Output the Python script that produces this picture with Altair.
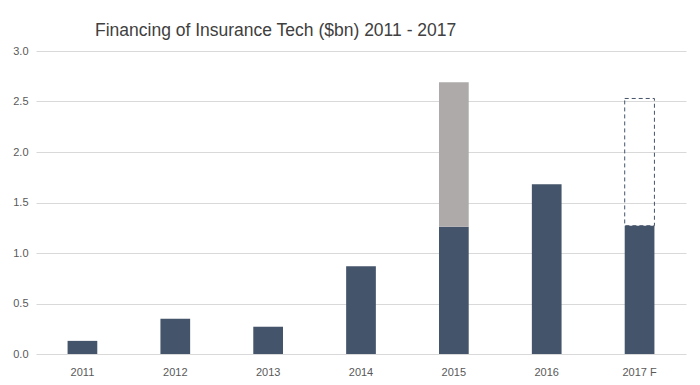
import altair as alt
import pandas as pd

years = ["2011", "2012", "2013", "2014", "2015", "2016", "2017 F"]
base_values = [0.13, 0.35, 0.27, 0.87, 1.26, 1.68, 1.27]

extra_years = ["2015"]
extra_low = [1.26]
extra_high = [2.69]

forecast_years = ["2017 F"]
forecast_low = [1.27]
forecast_high = [2.53]

base_df = pd.DataFrame({"year": years, "value": base_values})
extra_df = pd.DataFrame({"year": extra_years, "low": extra_low, "high": extra_high})
fc_df = pd.DataFrame({"year": forecast_years, "low": forecast_low, "high": forecast_high})

xscale = alt.Scale(domain=years, paddingInner=0.68, paddingOuter=0.34)
yscale = alt.Scale(domain=[0, 3])

x = alt.X("year:N", scale=xscale, sort=years,
          axis=alt.Axis(title=None, labelAngle=0, ticks=False, domain=False,
                        labelColor="#595959", labelFontSize=11, labelPadding=12,
                        labelFont="Liberation Sans", grid=False))

base = alt.Chart(base_df).mark_bar(color="#44546A").encode(
    x=x,
    y=alt.Y("value:Q", scale=yscale,
            axis=alt.Axis(title=None, values=[0, 0.5, 1, 1.5, 2, 2.5, 3], format=".1f",
                          ticks=False, domain=False, gridColor="#D9D9D9", gridWidth=1,
                          labelColor="#595959", labelFontSize=11, labelPadding=8,
                          labelFont="Liberation Sans")),
)

extra = alt.Chart(extra_df).mark_bar(color="#AEAAAA").encode(
    x=alt.X("year:N", scale=xscale, sort=years),
    y=alt.Y("low:Q", scale=yscale),
    y2="high:Q",
)

fc = alt.Chart(fc_df).mark_bar(fill="transparent", stroke="#44546A", strokeWidth=1,
                              strokeDash=[4, 3]).encode(
    x=alt.X("year:N", scale=xscale, sort=years),
    y=alt.Y("low:Q", scale=yscale),
    y2="high:Q",
)

chart = alt.layer(base, extra, fc).properties(
    width=650,
    height=303,
    autosize=alt.AutoSizeParams(type="none"),
    padding={"left": 28, "top": 43, "right": 6, "bottom": 26},
    title=alt.TitleParams("Financing of Insurance Tech ($bn) 2011 - 2017",
                          anchor="start", frame="group", dx=59, offset=6,
                          fontSize=17.5, font="Liberation Sans", fontWeight="normal",
                          color="#404040"),
).configure_view(stroke=None)

chart.save("out.html", embed_options={"renderer": "svg", "actions": False})
